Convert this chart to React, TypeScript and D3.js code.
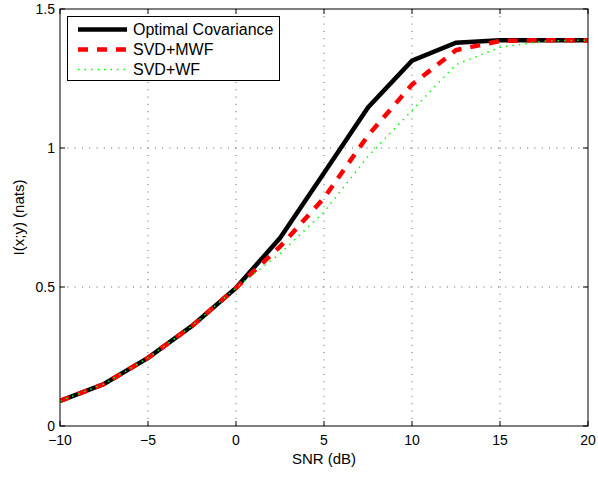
import React from "react";
import * as d3 from "d3";

const snr = [-10, -7.5, -5, -2.5, 0, 2.5, 5, 7.5, 10, 12.5, 15, 17.5, 20];
const optimal = [0.09, 0.151, 0.245, 0.36, 0.497, 0.676, 0.91, 1.146, 1.314, 1.379, 1.388, 1.388, 1.388];
const svdMwf = [0.09, 0.151, 0.245, 0.36, 0.497, 0.645, 0.82, 1.045, 1.228, 1.352, 1.385, 1.388, 1.388];
const svdWf = [0.09, 0.151, 0.245, 0.36, 0.497, 0.62, 0.77, 0.97, 1.135, 1.3, 1.362, 1.385, 1.388];
const xTicks = [-10, -5, 0, 5, 10, 15, 20];
const yTicks = [0, 0.5, 1, 1.5];
const seriesNames = ["Optimal Covariance", "SVD+MWF", "SVD+WF"];

const W = 598, H = 477;
const L = 60, R = 588, T = 9, B = 426;

export default function App() {
  const x = d3.scaleLinear().domain([-10, 20]).range([L, R]);
  const y = d3.scaleLinear().domain([0, 1.5]).range([B, T]);
  const line = d3.line<number>().x((_, i) => x(snr[i])).y((d) => y(d));
  const styles = [
    { stroke: "#000000", width: 4.5, dash: "none" },
    { stroke: "#ff0000", width: 4.5, dash: "10 9" },
    { stroke: "#00ff00", width: 1.5, dash: "1.5 5" },
  ];
  const data = [optimal, svdMwf, svdWf];
  const font = "'Liberation Sans', Arial, Helvetica, sans-serif";
  const fmt = (v: number) => (v < 0 ? "\u2212" + Math.abs(v) : String(v));
  return (
    <svg width={W} height={H} style={{ position: "absolute", left: 0, top: 0, background: "#fff" }} fontFamily={font}>
      <rect x={0} y={0} width={W} height={H} fill="#fff" />
      {/* grid */}
      {xTicks.slice(1, -1).map((t) => (
        <line key={"gx" + t} x1={x(t)} x2={x(t)} y1={T} y2={B} stroke="#333" strokeWidth={0.8} strokeDasharray="1 6.3" />
      ))}
      {yTicks.slice(1, -1).map((t) => (
        <line key={"gy" + t} x1={L} x2={R} y1={y(t)} y2={y(t)} stroke="#333" strokeWidth={0.8} strokeDasharray="1 6.3" />
      ))}
      {/* lines */}
      <clipPath id="clip"><rect x={L} y={T} width={R - L} height={B - T} /></clipPath>
      <g clipPath="url(#clip)">
        {data.map((d, i) => (
          <path key={i} d={line(d) || ""} fill="none" stroke={styles[i].stroke} strokeWidth={styles[i].width} strokeDasharray={styles[i].dash} strokeLinejoin="miter" />
        ))}
      </g>
      {/* box */}
      <rect x={L} y={T} width={R - L} height={B - T} fill="none" stroke="#000" strokeWidth={1} />
      {/* ticks */}
      {xTicks.map((t) => (
        <g key={"tx" + t}>
          <line x1={x(t)} x2={x(t)} y1={B} y2={B - 5} stroke="#000" />
          <line x1={x(t)} x2={x(t)} y1={T} y2={T + 5} stroke="#000" />
          <text x={x(t)} y={B + 19} fontSize={14} textAnchor="middle">{fmt(t)}</text>
        </g>
      ))}
      {yTicks.map((t) => (
        <g key={"ty" + t}>
          <line x1={L} x2={L + 5} y1={y(t)} y2={y(t)} stroke="#000" />
          <line x1={R} x2={R - 5} y1={y(t)} y2={y(t)} stroke="#000" />
          <text x={L - 5} y={y(t) + 5} fontSize={14} textAnchor="end">{t}</text>
        </g>
      ))}
      <text x={(L + R) / 2} y={B + 38} fontSize={15} textAnchor="middle">SNR (dB)</text>
      <text transform={`translate(24, ${(T + B) / 2}) rotate(-90)`} fontSize={15} textAnchor="middle">I(x;y) (nats)</text>
      {/* legend */}
      <rect x={67.5} y={16.5} width={212} height={64} fill="#fff" stroke="#000" strokeWidth={1} />
      {seriesNames.map((n, i) => (
        <g key={n}>
          <line x1={78} x2={127} y1={29.5 + i * 20} y2={29.5 + i * 20} stroke={styles[i].stroke} strokeWidth={styles[i].width} strokeDasharray={styles[i].dash} />
          <text x={133} y={35 + i * 20} fontSize={16}>{n}</text>
        </g>
      ))}
    </svg>
  );
}
